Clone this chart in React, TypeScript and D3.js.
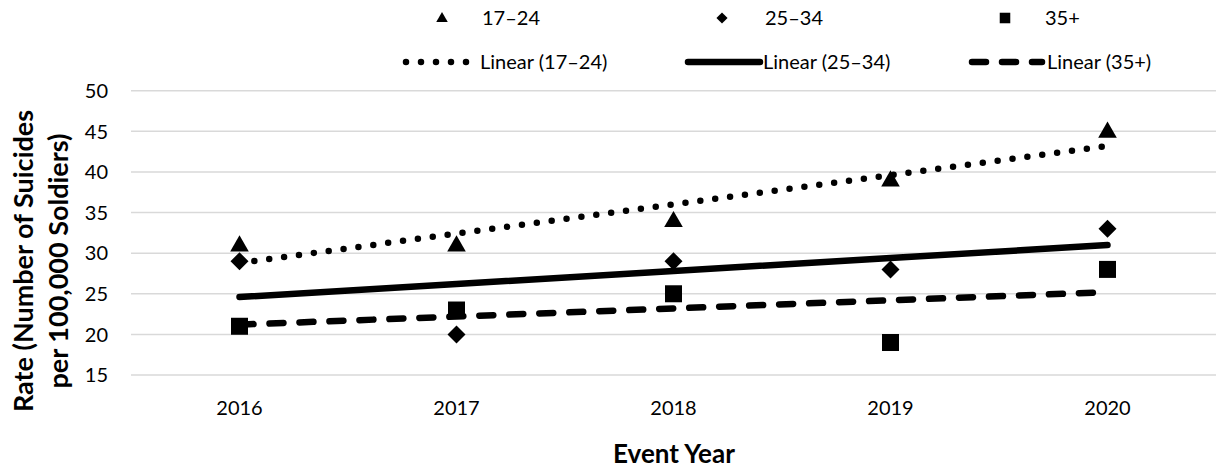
import React from "react";
import * as d3 from "d3";

const years = ["2016", "2017", "2018", "2019", "2020"];
const age17to24 = [31, 31, 34, 39, 45];
const age25to34 = [29, 20, 29, 28, 33];
const age35plus = [21, 23, 25, 19, 28];
const yTicks = [15, 20, 25, 30, 35, 40, 45, 50];
const seriesNames = ["17–24", "25–34", "35+"];
const trendNames = ["Linear (17–24)", "Linear (25–34)", "Linear (35+)"];

const W = 1219;
const H = 470;
const FONT = "Lato, 'Open Sans', sans-serif";

function linearFit(vals: number[]) {
  const xs = vals.map((_, i) => i + 1);
  const mx = d3.mean(xs)!;
  const my = d3.mean(vals)!;
  let num = 0;
  let den = 0;
  xs.forEach((x, i) => {
    num += (x - mx) * (vals[i] - my);
    den += (x - mx) * (x - mx);
  });
  const slope = num / den;
  const intercept = my - slope * mx;
  return xs.map((x) => intercept + slope * x);
}

export default function App() {
  const x = d3.scaleBand<string>().domain(years).range([131, 1216]);
  const y = d3.scaleLinear().domain([15, 50]).range([375, 90.7]);
  const cx = (yr: string) => x(yr)! + x.bandwidth() / 2;

  const line = d3
    .line<number>()
    .x((_, i) => cx(years[i]))
    .y((d) => y(d));

  const series = [age17to24, age25to34, age35plus];
  const trends = series.map(linearFit);
  const trendStyles = [
    { dash: "0 15", width: 6.5 },
    { dash: "", width: 6.5 },
    { dash: "14 16", width: 6.5 },
  ];

  const marker = (k: number, px: number, py: number, sc: number) => {
    if (k === 0) {
      const s = d3.symbol(d3.symbolTriangle, 150 * sc * sc)();
      return <path d={s!} transform={`translate(${px},${py + 1 * sc})`} fill="#000" />;
    }
    if (k === 1) {
      const r = 9 * sc;
      return (
        <path
          d={`M${px},${py - r}L${px + r},${py}L${px},${py + r}L${px - r},${py}Z`}
          fill="#000"
        />
      );
    }
    const h = 8.5 * sc;
    return <rect x={px - h} y={py - h} width={2 * h} height={2 * h} fill="#000" />;
  };

  const legendRow1 = [
    { mx: 442, tx: 482 },
    { mx: 722, tx: 765 },
    { mx: 1005, tx: 1045 },
  ];
  const legendRow2 = [
    { x0: 406, x1: 468, tx: 480 },
    { x0: 688, x1: 760, tx: 763 },
    { x0: 972, x1: 1042, tx: 1047 },
  ];

  return (
    <svg
      width={W}
      height={H}
      style={{ position: "absolute", left: 0, top: 0, background: "#fff" }}
      fontFamily={FONT}
    >
      {yTicks.map((t) => (
        <line
          key={`g${t}`}
          x1={131}
          x2={1216}
          y1={y(t)}
          y2={y(t)}
          stroke="#d9d9d9"
          strokeWidth={1.5}
        />
      ))}
      {yTicks.map((t) => (
        <text
          key={`l${t}`}
          x={108}
          y={y(t)}
          dy="0.36em"
          textAnchor="end"
          fontSize={20}
          fill="#000"
        >
          {t}
        </text>
      ))}
      {years.map((yr) => (
        <text key={yr} x={cx(yr)} y={415} textAnchor="middle" fontSize={20} fill="#000">
          {yr}
        </text>
      ))}
      <text x={674} y={463} textAnchor="middle" fontSize={26} fontWeight="bold" fill="#000">
        Event Year
      </text>
      <text
        transform="translate(33,261) rotate(-90)"
        textAnchor="middle"
        fontSize={27}
        fontWeight="bold"
        fill="#000"
      >
        <tspan x={0} y={0}>Rate (Number of Suicides</tspan>
        <tspan x={0} y={35}>per 100,000 Soldiers)</tspan>
      </text>
      {series.map((vals, k) =>
        vals.map((v, i) => (
          <g key={`${k}-${i}`}>{marker(k, cx(years[i]), y(v), 1)}</g>
        ))
      )}
      {trends.map((vals, k) => (
        <path
          key={`t${k}`}
          d={line(vals)!}
          fill="none"
          stroke="#000"
          strokeWidth={trendStyles[k].width}
          strokeDasharray={trendStyles[k].dash || undefined}
          strokeLinecap="round"
        />
      ))}
      {seriesNames.map((nm, k) => (
        <g key={nm}>
          {marker(k, legendRow1[k].mx, 18, 0.62)}
          <text x={legendRow1[k].tx} y={18} dy="0.36em" fontSize={20} fill="#000">
            {nm}
          </text>
        </g>
      ))}
      {trendNames.map((nm, k) => (
        <g key={nm}>
          <line
            x1={legendRow2[k].x0}
            x2={legendRow2[k].x1}
            y1={62}
            y2={62}
            stroke="#000"
            strokeWidth={trendStyles[k].width}
            strokeDasharray={trendStyles[k].dash || undefined}
            strokeLinecap="round"
          />
          <text x={legendRow2[k].tx} y={62} dy="0.36em" fontSize={20} fill="#000">
            {nm}
          </text>
        </g>
      ))}
    </svg>
  );
}
